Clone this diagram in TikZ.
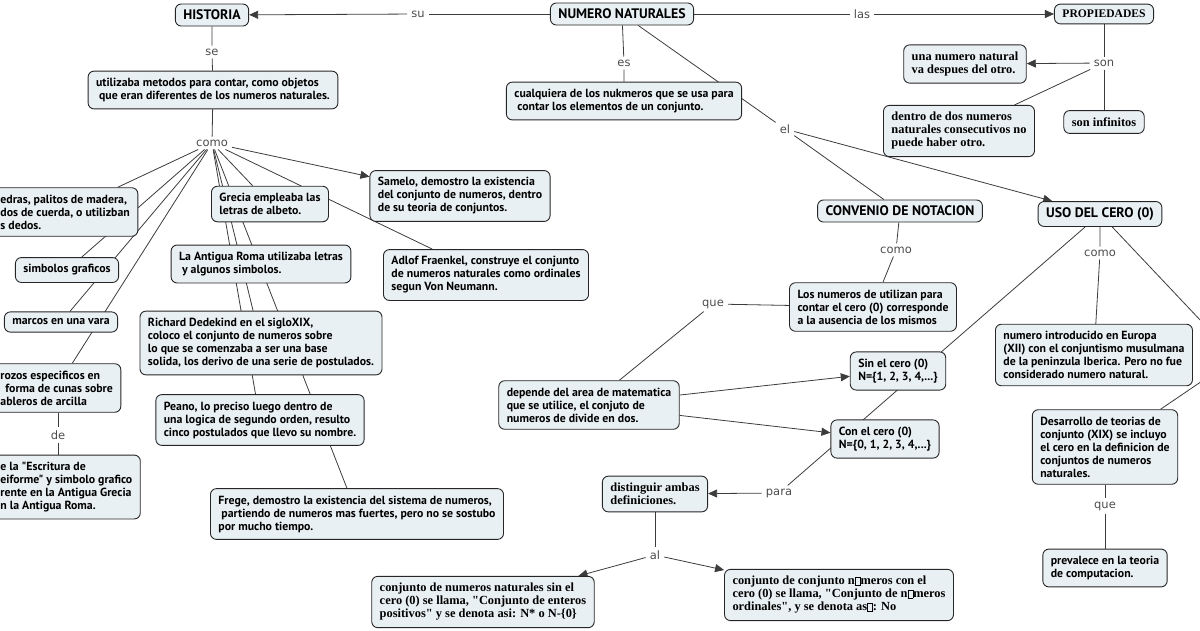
\documentclass[tikz,border=0pt]{standalone}
\usepackage{fontspec}
\usepackage{tikz}
\usetikzlibrary{arrows.meta,backgrounds}
\newfontfamily\sansbox{PT Sans}
\newfontfamily\serifbox{Liberation Serif}
\newfontfamily\linkfont{DejaVu Sans}
\definecolor{BoxFill}{RGB}{233,240,243}
\definecolor{LineGray}{RGB}{60,60,60}
\newcommand{\tofu}{{\setlength{\fboxsep}{0pt}\setlength{\fboxrule}{0.5pt}\fbox{\rule{0pt}{0.62em}\rule{0.38em}{0pt}}}}

\begin{document}
\begin{tikzpicture}[x=1pt, y=-1pt,
  concept/.style={draw=black!85, fill=BoxFill, rounded corners=6pt, line width=0.9pt, align=left,
    inner xsep=8pt, inner ysep=7pt, font=\sansbox\bfseries\fontsize{11.8}{13}\selectfont},
  sconcept/.style={concept, font=\serifbox\bfseries\fontsize{12.4}{13}\selectfont},
  title/.style={concept, inner ysep=6pt, font=\sansbox\bfseries\fontsize{13.8}{15}\selectfont},
  stitle/.style={title, font=\serifbox\bfseries\fontsize{11.6}{14}\selectfont},
  phrase/.style={font=\linkfont\fontsize{11.5}{13}\selectfont, text=black!70, inner xsep=4pt, inner ysep=3pt},
  link/.style={draw=LineGray, line width=0.8pt},
  arrow/.style={link, -{Triangle[length=9pt,width=8pt]}}
]
\useasboundingbox (0,0) rectangle (1200,630);
\clip (0,0) rectangle (1200,630);

% titles
\node[title] (historia) at (212,15) {HISTORIA};
\node[title] (numeros) at (622,14) {NUMERO NATURALES};
\node[stitle] (propiedades) at (1104,14) {PROPIEDADES};
\node[title] (convenio) at (900,211) {CONVENIO DE NOTACION};
\node[title] (usocero) at (1100,214) {USO DEL CERO (0)};

% linking phrases
\node[phrase] (su) at (418,14) {su};
\node[phrase] (las) at (862,14) {las};
\node[phrase] (se) at (212,52) {se};
\node[phrase] (es) at (624,63) {es};
\node[phrase] (son) at (1104,63) {son};
\node[phrase] (el) at (785,129) {el};
\node[phrase] (como1) at (212,143) {como};
\node[phrase] (de) at (58,435) {de};
\node[phrase] (como2) at (896,250) {como};
\node[phrase] (como3) at (1100,253) {como};
\node[phrase] (que1) at (713,304) {que};
\node[phrase] (que2) at (1105,506) {que};
\node[phrase] (para) at (779,493) {para};
\node[phrase] (al) at (655,555) {al};
\coordinate (offright) at (1236,358);

% historia
\node[concept] (utilizaba) at (213,90) {utilizaba metodos para contar, como objetos\\ \hspace*{3pt}que eran diferentes de los numeros naturales.};
\node[concept, anchor=west] (piedras) at (-8,212) {edras, palitos de madera,\\ dos de cuerda, o utilizban\\ s dedos.};
\node[concept] (simbolos) at (67,270) {simbolos graficos};
\node[concept] (marcos) at (61,322) {marcos en una vara};
\node[concept, anchor=west] (trozos) at (-8,388) {rozos especificos en\\ \hspace*{5pt}forma de cunas sobre\\ ableros de arcilla};
\node[concept, anchor=west] (escritura) at (-8,487) {e la "Escritura de\\ eiforme" y simbolo grafico\\ rente en la Antigua Grecia\\ n la Antigua Roma.};
\node[concept] (grecia) at (270,204) {Grecia empleaba las\\ letras de albeto.};
\node[concept] (roma) at (261,264) {La Antigua Roma utilizaba letras\\ \hspace*{3pt}y algunos simbolos.};
\node[concept] (samelo) at (460,196) {Samelo, demostro la existencia\\ del conjunto de numeros, dentro\\ de su teoria de conjuntos.};
\node[concept] (adlof) at (486,275) {Adlof Fraenkel, construye el conjunto\\ de numeros naturales como ordinales\\ segun Von Neumann.};
\node[concept] (richard) at (261,343) {Richard Dedekind en el sigloXIX,\\ coloco el conjunto de numeros sobre\\ lo que se comenzaba a ser una base\\ solida, los derivo de una serie de postulados.};
\node[concept] (peano) at (260,420) {Peano, lo preciso luego dentro de\\ una logica de segundo orden, resulto\\ cinco postulados que llevo su nombre.};
\node[concept] (frege) at (357,514) {Frege, demostro la existencia del sistema de numeros,\\ \hspace*{3pt}partiendo de numeros mas fuertes, pero no se sostubo\\ por mucho tiempo.};

% numeros naturales / propiedades
\node[concept] (cualquiera) at (624,101) {cualquiera de los nukmeros que se usa para\\ \hspace*{3pt}contar los elementos de un conjunto.};
\node[sconcept] (despues) at (965,64) {una numero natural\\ va despues del otro.};
\node[sconcept] (dentro) at (959,131) {dentro de dos numeros\\ naturales consecutivos no\\ puede haber otro.};
\node[sconcept] (infinitos) at (1104,122) {son infinitos};

% convenio / cero
\node[concept] (losnumeros) at (873,307) {Los numeros de utilizan para\\ contar el cero (0) corresponde\\ a la ausencia de los mismos};
\node[concept] (sincero) at (898,371) {Sin el cero (0)\\ N=\{1, 2, 3, 4,...\}};
\node[concept] (concero) at (885,439) {Con el cero (0)\\ N=\{0, 1, 2, 3, 4,...\}};
\node[concept] (depende) at (589,405) {depende del area de matematica\\ que se utilice, el conjuto de\\ numeros de divide en dos.};
\node[concept, anchor=west] (introducido) at (995,355) {numero introducido en Europa\\ (XII) con el conjuntismo musulmana\\ de la peninzula Iberica. Pero no fue\\ considerado numero natural.};
\node[concept] (desarrollo) at (1105,447) {Desarrollo de teorias de\\ conjunto (XIX) se incluyo\\ el cero en la definicion de\\ conjuntos de numeros\\ naturales.};
\node[concept] (prevalece) at (1105,568) {prevalece en la teoria\\ de computacion.};
\node[sconcept] (distinguir) at (655,494) {distinguir ambas\\ definiciones.};
\node[sconcept] (sinconjunto) at (483,602) {conjunto de numeros naturales sin el\\ cero (0) se llama, "Conjunto de enteros\\ positivos" y se denota asi: N* o N-\{0\}};
\node[sconcept] (conconjunto) at (839,595) {conjunto de conjunto n\tofu meros con el\\ cero (0) se llama, "Conjunto de n\tofu meros\\ ordinales", y se denota as\tofu: No};

% connectors
\begin{scope}[on background layer]
  \draw[link] (numeros) -- (su);
  \draw[arrow] (su) -- (historia);
  \draw[link] (numeros) -- (las);
  \draw[arrow] (las) -- (propiedades);
  \draw[link] (historia) -- (se) -- (utilizaba);
  \draw[link] (numeros) -- (es) -- (cualquiera);
  \draw[link] (numeros) -- (el);
  \draw[link] (el) -- (convenio);
  \draw[arrow] (el) -- (usocero);
  \draw[link] (propiedades) -- (son) -- (infinitos);
  \draw[arrow] (son) -- (despues);
  \draw[link] (son) -- (dentro);
  \draw[link] (utilizaba) -- (como1);
  \foreach \n in {piedras,simbolos,marcos,trozos,grecia,richard,peano,frege,adlof}
    \draw[link] (como1) -- (\n);
  \draw[arrow] (como1) -- (samelo);
  \draw[link] (trozos.south -| de) -- (de) -- (escritura.north -| de);
  \draw[link] (convenio) -- (como2) -- (losnumeros);
  \draw[link] (losnumeros) -- (que1) -- (depende);
  \draw[arrow] (depende) -- (sincero);
  \draw[arrow] (depende) -- (concero);
  \draw[link] (usocero) -- (como3) -- (introducido);
  \draw[link] (usocero) -- (offright) -- (desarrollo);
  \draw[link] (desarrollo) -- (que2) -- (prevalece);
  \draw[link] (usocero) -- (para);
  \draw[arrow] (para) -- (distinguir);
  \draw[link] (distinguir) -- (al);
  \draw[arrow] (al) -- (sinconjunto);
  \draw[arrow] (al) -- (conconjunto);
\end{scope}
\end{tikzpicture}
\end{document}
